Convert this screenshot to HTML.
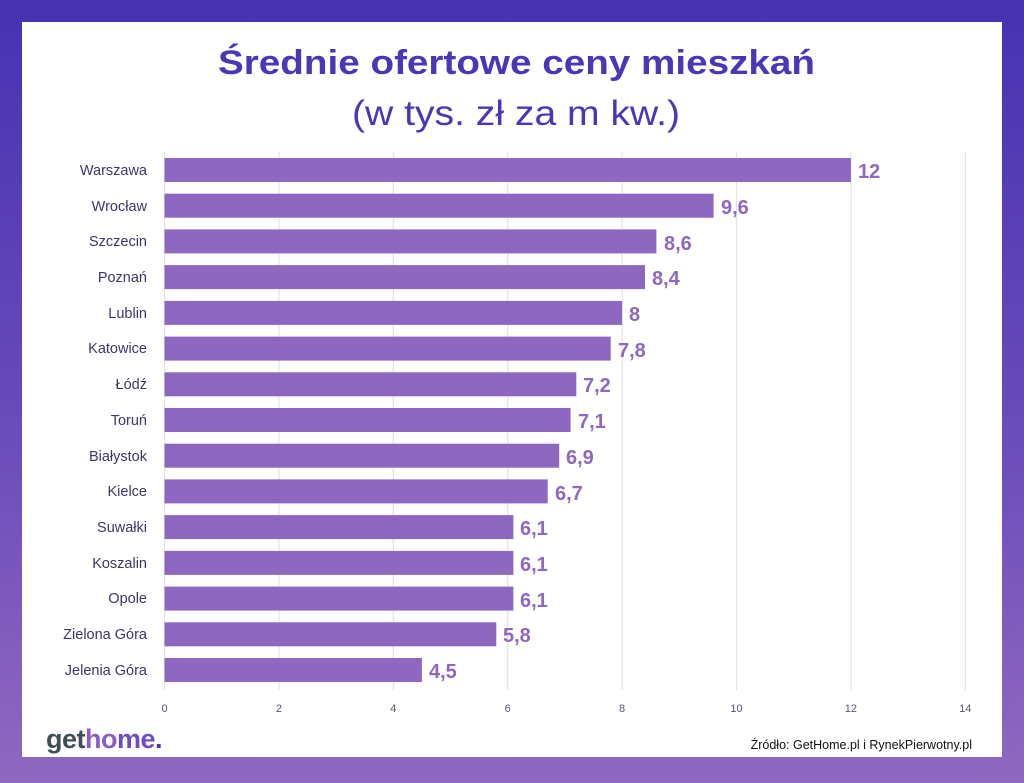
<!DOCTYPE html>
<html><head><meta charset="utf-8"><style>
html,body{margin:0;padding:0}
body{width:1024px;height:783px;overflow:hidden;background:linear-gradient(180deg,#4632b2 0%,#6a4cba 55%,#9068c0 100%);position:relative;font-family:"Liberation Sans","DejaVu Sans",sans-serif}
.panel{position:absolute;left:22px;top:22px;width:980px;height:735px;background:#fff}
svg{position:absolute;left:0;top:0}
</style></head><body>
<div class="panel"></div>
<svg width="1024" height="783" xmlns="http://www.w3.org/2000/svg" font-family="Liberation Sans, DejaVu Sans, sans-serif">
<text x="218" y="74" textLength="597" lengthAdjust="spacingAndGlyphs" font-size="34" font-weight="bold" fill="#4a36b6">Średnie ofertowe ceny mieszkań</text>
<text x="352" y="125" textLength="328" lengthAdjust="spacingAndGlyphs" font-size="35" fill="#4a36b6">(w tys. zł za m kw.)</text>
<g stroke="#e3e3e3" stroke-width="1.2">
<line x1="164.5" y1="152" x2="164.5" y2="690"/><line x1="278.9" y1="152" x2="278.9" y2="690"/><line x1="393.3" y1="152" x2="393.3" y2="690"/><line x1="507.7" y1="152" x2="507.7" y2="690"/><line x1="622.1" y1="152" x2="622.1" y2="690"/><line x1="736.5" y1="152" x2="736.5" y2="690"/><line x1="850.9" y1="152" x2="850.9" y2="690"/><line x1="965.3" y1="152" x2="965.3" y2="690"/>
</g>
<g font-size="11" fill="#555a70" text-anchor="middle">
<text x="164.5" y="712">0</text><text x="278.9" y="712">2</text><text x="393.3" y="712">4</text><text x="507.7" y="712">6</text><text x="622.1" y="712">8</text><text x="736.5" y="712">10</text><text x="850.9" y="712">12</text><text x="965.3" y="712">14</text>
</g>
<g fill="#8e68c0">
<rect x="164.5" y="158" width="686.4" height="24"/>
<rect x="164.5" y="193.7" width="549.1" height="24"/>
<rect x="164.5" y="229.4" width="491.9" height="24"/>
<rect x="164.5" y="265.1" width="480.5" height="24"/>
<rect x="164.5" y="300.9" width="457.6" height="24"/>
<rect x="164.5" y="336.6" width="446.2" height="24"/>
<rect x="164.5" y="372.3" width="411.8" height="24"/>
<rect x="164.5" y="408" width="406.1" height="24"/>
<rect x="164.5" y="443.7" width="394.7" height="24"/>
<rect x="164.5" y="479.4" width="383.2" height="24"/>
<rect x="164.5" y="515.1" width="348.9" height="24"/>
<rect x="164.5" y="550.9" width="348.9" height="24"/>
<rect x="164.5" y="586.6" width="348.9" height="24"/>
<rect x="164.5" y="622.3" width="331.8" height="24"/>
<rect x="164.5" y="658" width="257.4" height="24"/>
</g>
<g font-size="20" font-weight="bold" fill="#8e68c0">
<text x="858" y="178">12</text><text x="721" y="214">9,6</text><text x="664" y="250">8,6</text><text x="652" y="285">8,4</text><text x="629" y="321">8</text><text x="618" y="357">7,8</text><text x="583" y="392">7,2</text><text x="578" y="428">7,1</text><text x="566" y="464">6,9</text><text x="555" y="500">6,7</text><text x="520" y="535">6,1</text><text x="520" y="571">6,1</text><text x="520" y="607">6,1</text><text x="503" y="642">5,8</text><text x="429" y="678">4,5</text>
</g>
<g font-size="14.5" fill="#3d3566" text-anchor="end">
<text x="147" y="175">Warszawa</text><text x="147" y="211">Wrocław</text><text x="147" y="246">Szczecin</text><text x="147" y="282">Poznań</text><text x="147" y="318">Lublin</text><text x="147" y="353">Katowice</text><text x="147" y="389">Łódź</text><text x="147" y="425">Toruń</text><text x="147" y="461">Białystok</text><text x="147" y="496">Kielce</text><text x="147" y="532">Suwałki</text><text x="147" y="568">Koszalin</text><text x="147" y="603">Opole</text><text x="147" y="639">Zielona Góra</text><text x="147" y="675">Jelenia Góra</text>
</g>
<text x="46" y="748" font-size="27" font-weight="bold" letter-spacing="-0.5"><tspan fill="#3e4f58">get</tspan><tspan fill="#8e5cc0">ho</tspan><tspan fill="#6e4cc0">me</tspan><tspan fill="#4a36b6">.</tspan></text>
<text x="972" y="749" text-anchor="end" font-size="12.5" fill="#111">Źródło: GetHome.pl i RynekPierwotny.pl</text>
</svg>
</body></html>
